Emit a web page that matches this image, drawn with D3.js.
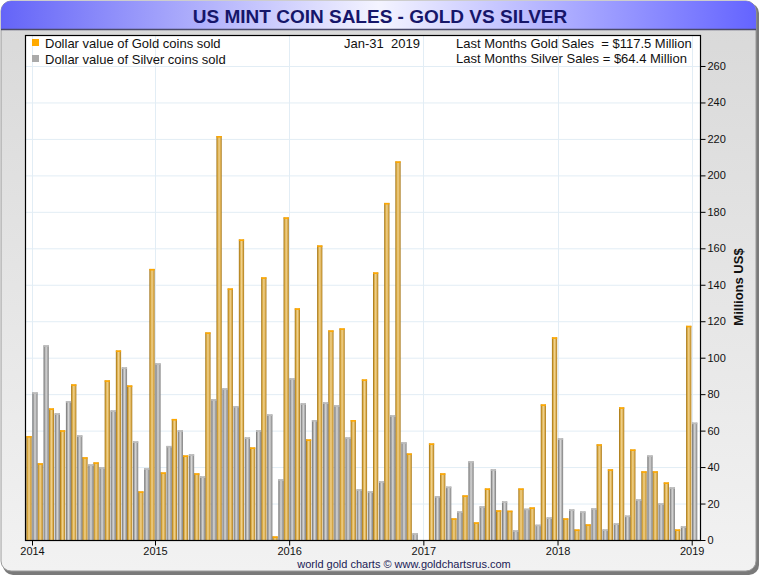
<!DOCTYPE html>
<html>
<head>
<meta charset="utf-8">
<script src="https://cdn.jsdelivr.net/npm/d3@7"></script>
<style>
  body { margin: 0; background: #fff; }
  text { font-family: "Liberation Sans", Arial, sans-serif; }
</style>
</head>
<body>
<script>
const width = 760;
const height = 575;

// months Feb 2014 .. Jan 2019
const months = [
  '2014-02','2014-03','2014-04','2014-05','2014-06','2014-07','2014-08','2014-09','2014-10','2014-11','2014-12',
  '2015-01','2015-02','2015-03','2015-04','2015-05','2015-06','2015-07','2015-08','2015-09','2015-10','2015-11','2015-12',
  '2016-01','2016-02','2016-03','2016-04','2016-05','2016-06','2016-07','2016-08','2016-09','2016-10','2016-11','2016-12',
  '2017-01','2017-02','2017-03','2017-04','2017-05','2017-06','2017-07','2017-08','2017-09','2017-10','2017-11','2017-12',
  '2018-01','2018-02','2018-03','2018-04','2018-05','2018-06','2018-07','2018-08','2018-09','2018-10','2018-11','2018-12',
  '2019-01'
];

// millions US$
const gold = [
  57.0, 42.1, 72.2, 60.2, 85.4, 45.4, 42.6, 87.6, 104.0, 84.8, 26.7,
  148.7, 37.1, 66.4, 46.4, 36.6, 113.9, 221.6, 138.0, 164.9, 50.8, 144.1, 2.0,
  177.0, 127.1, 55.2, 161.6, 115.0, 116.1, 65.8, 88.1, 146.8, 184.9, 207.7, 47.5,
  0, 53.0, 36.6, 11.9, 24.5, 9.7, 28.3, 16.3, 16.1, 28.3, 17.9, 74.4,
  111.2, 11.9, 5.8, 8.6, 52.5, 38.8, 72.8, 49.7, 37.7, 37.7, 31.6, 5.8,
  117.5
];
const silver = [
  81.0, 106.8, 69.5, 76.2, 57.4, 41.5, 39.9, 71.1, 94.7, 54.1, 39.3,
  96.9, 51.6, 60.2, 47.0, 34.9, 77.2, 83.2, 73.5, 56.3, 60.2, 68.9, 33.3,
  88.7, 75.0, 65.8, 75.5, 73.9, 56.3, 27.8, 26.7, 32.2, 68.4, 53.6, 3.7,
  0, 24.1, 29.3, 15.7, 43.2, 18.5, 38.8, 21.2, 5.3, 17.2, 8.4, 12.4,
  55.8, 16.8, 15.7, 17.4, 5.8, 9.1, 13.4, 22.3, 46.4, 20.1, 28.9, 7.5,
  64.4
];
const yearTicks = ['2014-02', '2015-01', '2016-01', '2017-01', '2018-01', '2019-01'];
const yTicks = d3.range(0, 261, 20);

const plot = { left: 25, top: 35, right: 700, bottom: 540 };

const svg = d3.select('body')
    .append('svg')
    .attr('width', width)
    .attr('height', height);

const defs = svg.append('defs');

function hGrad(id, stops) {
    const g = defs.append('linearGradient').attr('id', id)
        .attr('x1', '0%').attr('x2', '100%').attr('y1', '0%').attr('y2', '0%');
    stops.forEach(s => g.append('stop').attr('offset', s[0]).attr('stop-color', s[1]));
}
hGrad('titleGrad', [['0%', '#6464f8'], ['50%', '#f4f4ff'], ['100%', '#6464ff']]);
hGrad('goldGrad', [['0%', '#966606'], ['22%', '#d6a63e'], ['50%', '#f0d28e'], ['78%', '#d9aa4a'], ['100%', '#a47416']]);
hGrad('silverGrad', [['0%', '#6e6e6e'], ['28%', '#ababab'], ['50%', '#d6d6d6'], ['78%', '#a6a6a6'], ['100%', '#7e7e7e']]);

const bodyGrad = defs.append('linearGradient').attr('id', 'bodyGrad')
    .attr('x1', '0%').attr('x2', '0%').attr('y1', '0%').attr('y2', '100%');
bodyGrad.append('stop').attr('offset', '0%').attr('stop-color', '#d8d8d8');
bodyGrad.append('stop').attr('offset', '100%').attr('stop-color', '#f2f2f2');

// outer panel
svg.append('rect')
    .attr('x', 3).attr('y', 3).attr('width', width - 4).attr('height', height - 3)
    .attr('rx', 10).attr('fill', '#7a7a7a');
svg.append('rect')
    .attr('x', 1).attr('y', 1).attr('width', width - 5).attr('height', height - 5)
    .attr('rx', 10).attr('fill', 'url(#bodyGrad)').attr('stroke', '#9a9a9a');

// title bar
svg.append('clipPath').attr('id', 'titleClip')
    .append('rect').attr('x', 1).attr('y', 1).attr('width', width - 5).attr('height', 40).attr('rx', 10);
svg.append('rect')
    .attr('x', 1).attr('y', 1).attr('width', width - 5).attr('height', 28)
    .attr('clip-path', 'url(#titleClip)')
    .attr('fill', 'url(#titleGrad)');
svg.append('line')
    .attr('x1', 1).attr('x2', width - 4).attr('y1', 29.5).attr('y2', 29.5)
    .attr('stroke', '#4a4a6a').attr('stroke-width', 1.5);
svg.append('text')
    .attr('x', 380).attr('y', 23)
    .attr('text-anchor', 'middle')
    .style('font-size', '19px').style('font-weight', 'bold')
    .attr('fill', '#16166a')
    .text('US MINT COIN SALES - GOLD VS SILVER');

// plot frame
svg.append('rect')
    .attr('x', plot.left).attr('y', plot.top)
    .attr('width', plot.right - plot.left).attr('height', plot.bottom - plot.top)
    .attr('fill', '#fff');

const xScale = d3.scalePoint().domain(months).range([32, 691.7]);
const subScale = d3.scaleBand().domain(['gold', 'silver']).range([-5.6, 5.6]).paddingInner(0.12);
const yScale = d3.scaleLinear().domain([0, 277]).range([plot.bottom, plot.top]);

// gridlines
svg.append('g').selectAll('line')
    .data(yTicks.slice(1))
    .enter().append('line')
    .attr('x1', plot.left).attr('x2', plot.right)
    .attr('y1', d => yScale(d) + 0.5).attr('y2', d => yScale(d) + 0.5)
    .attr('stroke', '#e2edf5');
svg.append('g').selectAll('line')
    .data(yearTicks)
    .enter().append('line')
    .attr('x1', d => Math.round(xScale(d)) + 0.5).attr('x2', d => Math.round(xScale(d)) + 0.5)
    .attr('y1', plot.top).attr('y2', plot.bottom)
    .attr('stroke', '#e2edf5');

// bars
const rows = months.map((m, i) => ({ m, gold: gold[i], silver: silver[i] }));
const series = [
    { key: 'gold', fill: 'url(#goldGrad)', cap: '#ffa800' },
    { key: 'silver', fill: 'url(#silverGrad)', cap: '#bcbcbc' }
];
series.forEach(s => {
    const g = svg.append('g');
    const sel = rows.filter(d => d[s.key] > 0);
    g.selectAll('rect.bar')
        .data(sel)
        .enter().append('rect')
        .attr('class', 'bar')
        .attr('x', d => xScale(d.m) + subScale(s.key))
        .attr('y', d => yScale(d[s.key]))
        .attr('width', subScale.bandwidth())
        .attr('height', d => plot.bottom - yScale(d[s.key]))
        .attr('fill', s.fill);
    g.selectAll('rect.cap')
        .data(sel)
        .enter().append('rect')
        .attr('class', 'cap')
        .attr('x', d => xScale(d.m) + subScale(s.key))
        .attr('y', d => yScale(d[s.key]))
        .attr('width', subScale.bandwidth())
        .attr('height', 1.6)
        .attr('fill', s.cap);
});

svg.append('rect')
    .attr('x', plot.left + 0.5).attr('y', plot.top + 0.5)
    .attr('width', plot.right - plot.left).attr('height', plot.bottom - plot.top)
    .attr('fill', 'none').attr('stroke', '#000').attr('stroke-width', 1.2);

// axes
const xAxis = d3.axisBottom(xScale)
    .tickValues(yearTicks)
    .tickSize(5)
    .tickPadding(1)
    .tickFormat(d => d.slice(0, 4));
const gx = svg.append('g')
    .attr('transform', `translate(0, ${plot.bottom + 0.5})`)
    .call(xAxis);
gx.select('.domain').remove();
gx.selectAll('line').attr('stroke', '#000');
gx.selectAll('text').attr('fill', '#111').attr('dy', '0.8em')
    .style('font-size', '11px').style('font-family', '"Liberation Sans", Arial, sans-serif');

const yAxis = d3.axisRight(yScale).tickValues(yTicks).tickSize(5).tickPadding(2);
const gy = svg.append('g')
    .attr('transform', `translate(${plot.right + 0.5}, 0)`)
    .call(yAxis);
gy.select('.domain').remove();
gy.selectAll('line').attr('stroke', '#000');
gy.selectAll('text').attr('fill', '#111')
    .style('font-size', '11px').style('font-family', '"Liberation Sans", Arial, sans-serif');

svg.append('text')
    .attr('transform', 'translate(743, 287) rotate(-90)')
    .attr('text-anchor', 'middle')
    .style('font-size', '13px').style('font-weight', 'bold')
    .attr('fill', '#111')
    .text('Millions US$');

// legend
const legend = [
    { label: 'Dollar value of Gold coins sold', color: '#ffaa00', y: 39 },
    { label: 'Dollar value of Silver coins sold', color: '#aaaaaa', y: 55 }
];
legend.forEach(l => {
    svg.append('rect').attr('x', 32).attr('y', l.y).attr('width', 7).attr('height', 7).attr('fill', l.color);
    svg.append('text').attr('x', 45).attr('y', l.y + 9)
        .style('font-size', '13px').attr('fill', '#111').text(l.label);
});
svg.append('text').attr('x', 344).attr('y', 48)
    .style('font-size', '13px').style('white-space', 'pre').attr('fill', '#111')
    .text('Jan-31  2019');
svg.append('text').attr('x', 456).attr('y', 48)
    .style('font-size', '13px').style('white-space', 'pre').attr('fill', '#111')
    .text('Last Months Gold Sales  = $' + gold[gold.length - 1] + ' Million');
svg.append('text').attr('x', 456).attr('y', 63)
    .style('font-size', '13px').style('white-space', 'pre').attr('fill', '#111')
    .text('Last Months Silver Sales = $' + silver[silver.length - 1] + ' Million');

// footer
svg.append('text').attr('x', 404).attr('y', 568)
    .attr('text-anchor', 'middle')
    .style('font-size', '11px').attr('fill', '#1a1a55')
    .text('world gold charts \u00a9 www.goldchartsrus.com');
</script>
</body>
</html>
